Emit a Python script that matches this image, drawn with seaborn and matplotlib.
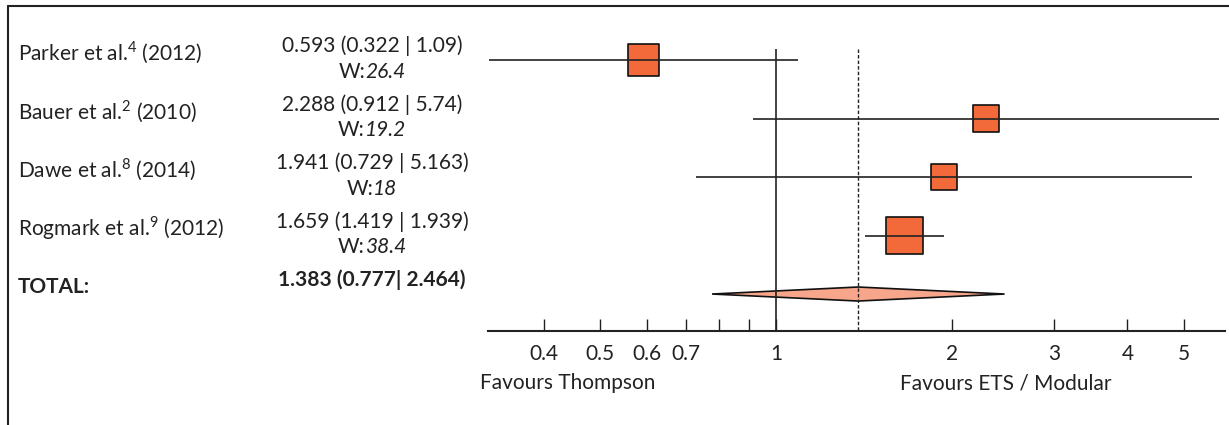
import numpy as np
import pandas as pd
import matplotlib.pyplot as plt
import matplotlib.transforms as mtransforms
from matplotlib.lines import Line2D
import seaborn as sns

# forest plot data
studies = ["Parker et al.", "Bauer et al.", "Dawe et al.", "Rogmark et al."]
refs = ["4", "2", "8", "9"]
years = [2012, 2010, 2014, 2012]
estimate = [0.593, 2.288, 1.941, 1.659]
lower = [0.322, 0.912, 0.729, 1.419]
upper = [1.09, 5.74, 5.163, 1.939]
weights = [26.4, 19.2, 18, 38.4]
total_est = 1.383
total_lo = 0.777
total_hi = 2.464
major_ticks = [0.4, 0.5, 0.6, 0.7, 1, 2, 3, 4, 5]
minor_ticks = [0.8, 0.9]

sns.set_style("white")
plt.rcParams['font.family'] = ['Lato', 'DejaVu Sans']
plt.rcParams['mathtext.fontset'] = 'custom'
plt.rcParams['mathtext.rm'] = 'Lato'

FS = 15
W, H = 1229, 425
fig = plt.figure(figsize=(W / 100, H / 100), dpi=100)
ax = fig.add_axes([488 / W, 1 - 331 / H, (1225 - 488) / W, (331 - 30) / H])

df = pd.DataFrame({"study": studies, "est": estimate, "lo": lower, "hi": upper,
                   "w": weights, "row": np.arange(len(studies))})

txt_col = "#222222"
sq_col = "#f26a3a"
dia_col = "#f7a68b"

# total diamond (behind reference lines)
row_tot = len(studies)
ax.fill([total_lo, total_est, total_hi, total_est],
        [row_tot, row_tot - 0.12, row_tot, row_tot + 0.12],
        facecolor=dia_col, edgecolor="#111111", linewidth=1.2, zorder=1)

# reference lines
ax.vlines(1, -0.19, 4.7, color="#222222", linewidth=1.2, zorder=2)
ax.vlines(total_est, -0.19, 4.7, color="#222222", linewidth=1.0,
          linestyles=(0, (2.5, 1.5)), zorder=2)

# squares sized by weight
sns.scatterplot(data=df, x="est", y="row", size="w",
                sizes={w: 19 * w for w in weights}, marker="s",
                color=sq_col, edgecolor="#111111", linewidth=1.2,
                legend=False, ax=ax, zorder=3)

# confidence intervals
ax.hlines(df["row"], df["lo"], df["hi"], color="#222222", linewidth=1.2, zorder=4)

ax.set_xscale("log")
ax.set_xlim(0.321, 5.88)
ax.set_ylim(4.632, -0.513)
ax.set_xticks(major_ticks)
ax.set_xticklabels([f"{t:g}" for t in major_ticks])
ax.set_xticks(minor_ticks, minor=True)
ax.set_xticklabels([], minor=True)
ax.set_yticks([])
ax.set_xlabel("")
ax.set_ylabel("")
for s in ["top", "left", "right"]:
    ax.spines[s].set_visible(False)
ax.spines["bottom"].set_color("#222222")
ax.spines["bottom"].set_linewidth(1.5)
ax.tick_params(axis="x", which="both", bottom=True, direction="in", length=8.5,
               width=1.0, color="#222222", labelsize=FS, labelcolor=txt_col, pad=9)
ax.patch.set_alpha(0)

# left-hand text columns
tr = mtransforms.blended_transform_factory(fig.transFigure, ax.transData)
renderer = fig.canvas.get_renderer()
for i, (name, r, y, e, lo, hi, w) in enumerate(zip(studies, refs, years, estimate,
                                                     lower, upper, weights)):
    fig.text(18 / W, i - 0.12, f"{name}$^{{\\mathrm{{{r}}}}}$ ({y})", transform=tr,
             ha="left", va="center", fontsize=FS, color=txt_col)
    fig.text(372 / W, i - 0.24, f"{e:g} ({lo:g} | {hi:g})", transform=tr,
             ha="center", va="center", fontsize=FS, color=txt_col)
    # "W:" upright + italic weight, centred together
    t1 = fig.text(0, i + 0.2, "W:", transform=tr, ha="left", va="center",
                  fontsize=FS, color=txt_col)
    t2 = fig.text(0, i + 0.2, f"{w:g}", transform=tr, ha="left", va="center",
                  fontsize=FS, style="italic", color=txt_col)
    w1 = t1.get_window_extent(renderer).width
    w2 = t2.get_window_extent(renderer).width
    x0 = 372 - (w1 + w2) / 2
    t1.set_x(x0 / W)
    t2.set_x((x0 + w1) / W)

fig.text(18 / W, row_tot - 0.12, "TOTAL:", transform=tr, ha="left", va="center",
         fontsize=FS, fontweight="bold", color=txt_col)
fig.text(372 / W, row_tot - 0.25, f"{total_est:g} ({total_lo:g}| {total_hi:g})",
         transform=tr, ha="center", va="center", fontsize=FS, fontweight="bold",
         color=txt_col)

# side captions
fig.text(480 / W, 1 - 383 / H, "Favours Thompson", ha="left", va="center",
         fontsize=FS, color=txt_col)
fig.text(900 / W, 1 - 383 / H, "Favours ETS / Modular", ha="left", va="center",
         fontsize=FS, color=txt_col)

# partial frame (top and left edges)
fig.add_artist(Line2D([7.5 / W, 1], [1 - 5.5 / H, 1 - 5.5 / H], transform=fig.transFigure,
                      color="#222222", linewidth=1.5))
fig.add_artist(Line2D([7.5 / W, 7.5 / W], [0, 1 - 5.5 / H], transform=fig.transFigure,
                      color="#222222", linewidth=1.5))

fig.savefig("out.png", dpi=100)
